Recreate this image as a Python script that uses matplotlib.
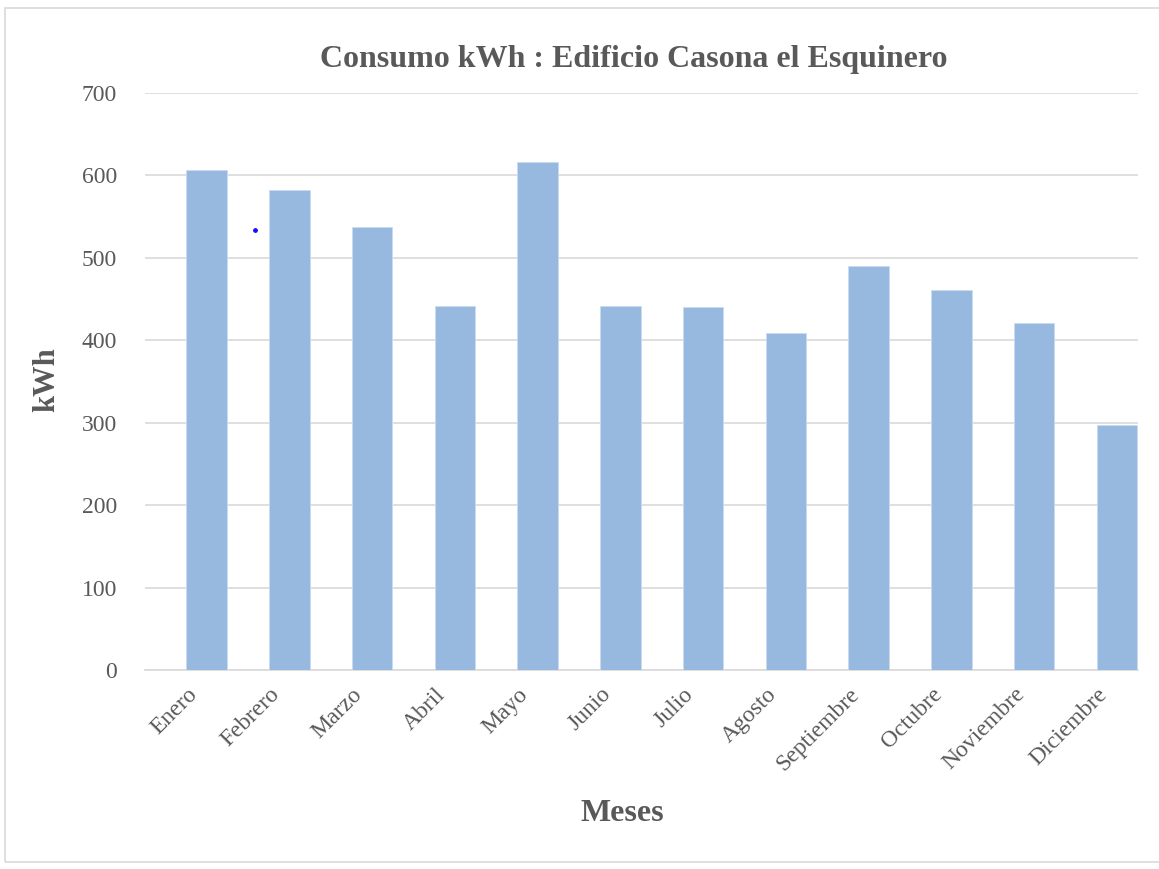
import numpy as np
import matplotlib
matplotlib.use("Agg")
import matplotlib.pyplot as plt
from matplotlib.patches import Rectangle

meses = ["Enero", "Febrero", "Marzo", "Abril", "Mayo", "Junio", "Julio",
         "Agosto", "Septiembre", "Octubre", "Noviembre", "Diciembre"]
consumo_kwh = [607, 582, 537, 442, 616, 442, 440, 409, 490, 461, 421, 297]
# stray point visible in the original between Enero and Febrero
punto_x = [0.83]
punto_y = [534]
yticks = [0, 100, 200, 300, 400, 500, 600, 700]

plt.rcParams["font.family"] = ["Liberation Serif", "DejaVu Serif"]
GRAY = "#595959"

fig = plt.figure(figsize=(11.59, 8.69), dpi=100)
ax = fig.add_axes([0.1251, 0.229, 0.8568, 0.664])

x = np.arange(len(meses))
# second series of a clustered chart: bar sits on the right half of each slot
ax.bar(x, consumo_kwh, width=0.49, align="edge", color="#97b8df",
       edgecolor="#c9dcf1", linewidth=0.6, zorder=3)
ax.scatter(punto_x, punto_y, s=6, color="#1010ff", zorder=4)

ax.set_xlim(-0.5, len(meses) - 0.5)
ax.set_ylim(0, 700)
ax.set_yticks(yticks)
ax.set_yticklabels([str(v) for v in yticks], fontsize=17, color=GRAY)
ax.set_xticks(x)
ax.set_xticklabels(meses, rotation=45, ha="right", rotation_mode="anchor",
                   fontsize=17, color=GRAY)
ax.tick_params(axis="both", length=0)
ax.tick_params(axis="y", pad=20)
ax.tick_params(axis="x", pad=10)

ax.grid(True, axis="y", color="#d9d9d9", linewidth=1.2, zorder=0)
ax.set_axisbelow(True)
for s in ["top", "right", "left"]:
    ax.spines[s].set_visible(False)
ax.spines["bottom"].set_color("#d9d9d9")
ax.spines["bottom"].set_linewidth(1.2)

fig.text(0.547, 0.932, "Consumo kWh : Edificio Casona el Esquinero",
         ha="center", va="center", fontsize=23, fontweight="bold", color=GRAY)
fig.text(0.040, 0.563, "kWh", rotation=90, ha="center", va="center",
         fontsize=22, fontweight="bold", color=GRAY)
fig.text(0.537, 0.064, "Meses", ha="center", va="center",
         fontsize=23, fontweight="bold", color=GRAY)

fig.patches.append(Rectangle((0.004, 0.008), 1.2, 0.983, transform=fig.transFigure,
                             fill=False, edgecolor="#d9d9d9", linewidth=1.2))

fig.savefig("out.png", dpi=100)
